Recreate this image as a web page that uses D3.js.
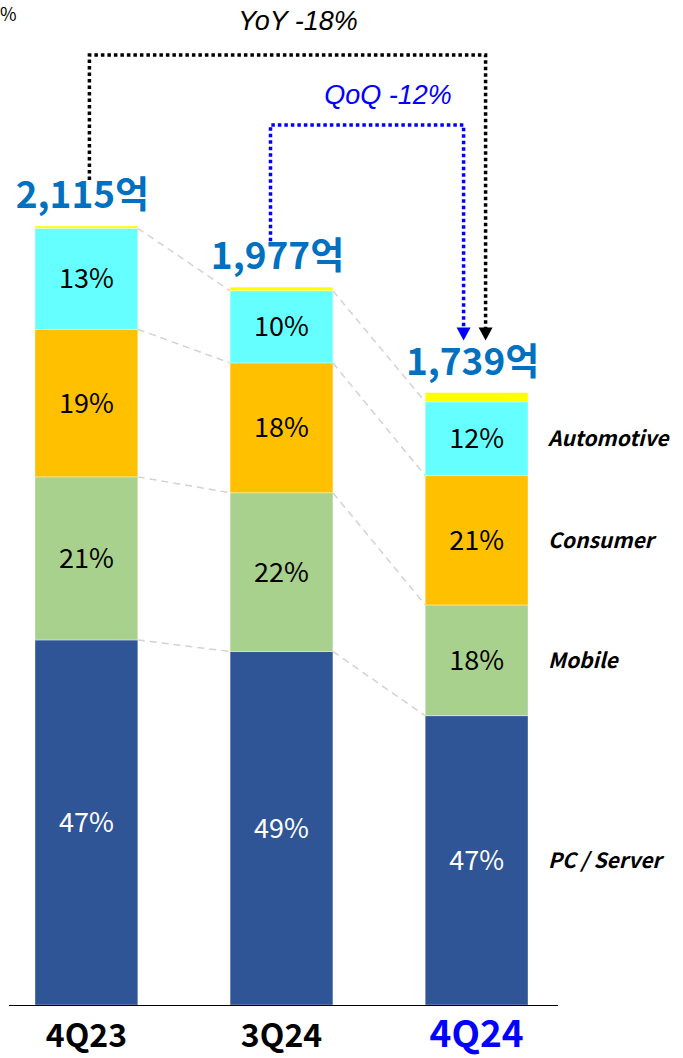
<!DOCTYPE html>
<html>
<head>
<meta charset="utf-8">
<script src="https://cdn.jsdelivr.net/npm/d3@7"></script>
<style>
  body { margin: 0; background: #fff; }
  svg { display: block; }
</style>
</head>
<body>
<div id="chart"></div>
<script>
// Quarterly revenue (억) and segment shares (%)
const quarters = ["4Q23", "3Q24", "4Q24"];
const totals = [2115, 1977, 1739];
const segmentNames = ["PC / Server", "Mobile", "Consumer", "Automotive", "Other"];
const pcServer = [47, 49, 47];
const mobile = [21, 22, 18];
const consumer = [19, 18, 21];
const automotive = [13, 10, 12];
const other = [0.3, 0.5, 1.5];   // thin yellow cap, unlabeled
const legendNames = ["PC / Server", "Mobile", "Consumer", "Automotive"];
const yoyText = "YoY -18%";
const qoqText = "QoQ -12%";

const width = 683, height = 1058;
const baseY = 1005;
const font = "'Noto Sans CJK KR', 'Noto Sans', sans-serif";

const colors = {
    "PC / Server": "#2F5597",
    "Mobile": "#A9D18E",
    "Consumer": "#FFC000",
    "Automotive": "#66FFFF",
    "Other": "#FFFF00"
};

const rows = quarters.map((q, i) => ({
    quarter: q,
    total: totals[i],
    "PC / Server": pcServer[i],
    "Mobile": mobile[i],
    "Consumer": consumer[i],
    "Automotive": automotive[i],
    "Other": other[i]
}));
rows.forEach(r => { r.sum = d3.sum(segmentNames, k => r[k]); });

const stacked = d3.stack().keys(segmentNames)(rows);

const svg = d3.select("#chart")
    .append("svg")
    .attr("width", width)
    .attr("height", height);

// x scale: bars
const x = d3.scaleBand()
    .domain(quarters)
    .range([35, 528])
    .paddingInner(0.473)
    .paddingOuter(0);

// bar height from revenue (truncated baseline)
const h = d3.scaleLinear()
    .domain([357, 2115])
    .range([0, 779]);

// per-bar share scale
const yOf = r => d3.scaleLinear()
    .domain([0, r.sum])
    .range([baseY, baseY - h(r.total)]);

// connector dashed lines between matching segment tops
const connectKeys = ["PC / Server", "Mobile", "Consumer", "Automotive"];
connectKeys.forEach(key => {
    const layer = stacked.find(s => s.key === key);
    for (let i = 0; i < rows.length - 1; i++) {
        const y1 = yOf(rows[i])(layer[i][1]);
        const y2 = yOf(rows[i + 1])(layer[i + 1][1]);
        svg.append("line")
            .attr("x1", x(quarters[i]) + x.bandwidth())
            .attr("y1", y1)
            .attr("x2", x(quarters[i + 1]))
            .attr("y2", y2)
            .attr("stroke", "#d3d3d3")
            .attr("stroke-width", 1.5)
            .attr("stroke-dasharray", "7,5");
    }
});

// stacked bars
svg.append("g")
    .selectAll("g")
    .data(stacked)
    .enter().append("g")
    .attr("fill", d => colors[d.key])
    .selectAll("rect")
    .data(d => d)
    .enter().append("rect")
    .attr("x", d => x(d.data.quarter))
    .attr("width", x.bandwidth())
    .attr("y", d => yOf(d.data)(d[1]))
    .attr("height", d => yOf(d.data)(d[0]) - yOf(d.data)(d[1]))
    .attr("stroke", "#ffffff")
    .attr("stroke-opacity", 0.45)
    .attr("stroke-width", 0.8);

// percentage labels
stacked.filter(s => s.key !== "Other").forEach(layer => {
    svg.selectAll(null)
        .data(layer)
        .enter().append("text")
        .attr("x", d => x(d.data.quarter) + x.bandwidth() / 2)
        .attr("y", d => (yOf(d.data)(d[0]) + yOf(d.data)(d[1])) / 2)
        .attr("dy", "0.35em")
        .attr("text-anchor", "middle")
        .style("font-family", font)
        .style("font-size", "27px")
        .attr("fill", layer.key === "PC / Server" ? "#ffffff" : "#000000")
        .text(d => d.data[layer.key] + "%");
});

// total labels
svg.selectAll(".total")
    .data(rows)
    .enter().append("text")
    .attr("class", "total")
    .attr("x", d => x(d.quarter) + x.bandwidth() / 2 - 4)
    .attr("y", d => baseY - h(d.total) - 18)
    .attr("text-anchor", "middle")
    .style("font-family", font)
    .style("font-weight", "bold")
    .style("font-size", "37px")
    .attr("fill", "#0070C0")
    .text(d => d3.format(",")(d.total) + "억");

// baseline
svg.append("line")
    .attr("x1", 9).attr("x2", 558)
    .attr("y1", baseY + 0.5).attr("y2", baseY + 0.5)
    .attr("stroke", "#000").attr("stroke-width", 1);

// category labels
svg.selectAll(".cat")
    .data(quarters)
    .enter().append("text")
    .attr("class", "cat")
    .attr("x", d => x(d) + x.bandwidth() / 2)
    .attr("y", 1047)
    .attr("text-anchor", "middle")
    .style("font-family", font)
    .style("font-weight", "bold")
    .style("font-size", (d, i) => i === quarters.length - 1 ? "37px" : "32px")
    .attr("fill", (d, i) => i === quarters.length - 1 ? "#0000FF" : "#000000")
    .text(d => d);

// legend labels beside last bar
const lastIdx = rows.length - 1;
legendNames.forEach(name => {
    const layer = stacked.find(s => s.key === name);
    const seg = layer[lastIdx];
    const ys = yOf(rows[lastIdx]);
    svg.append("text")
        .attr("x", 548)
        .attr("y", (ys(seg[0]) + ys(seg[1])) / 2)
        .attr("dy", "0.35em")
        .style("font-family", font)
        .style("font-weight", "bold")
        .style("font-style", "italic")
        .style("font-size", "21px")
        .attr("fill", "#000")
        .text(name);
});

// growth brackets
const cx = q => x(q) + x.bandwidth() / 2;
const labelTop = i => baseY - h(totals[i]) - 18 - 32;

function bracket(fromIdx, dx1, topY, dx2, color) {
    const x1 = cx(quarters[fromIdx]) + dx1;
    const x2 = cx(quarters[lastIdx]) + dx2;
    const tipY = labelTop(lastIdx) - 2;
    svg.append("path")
        .attr("d", `M${x1},${labelTop(fromIdx) + 4}V${topY}H${x2}V${tipY - 12}`)
        .attr("fill", "none")
        .attr("stroke", color)
        .attr("stroke-width", 3.5)
        .attr("stroke-dasharray", "3.5,3");
    svg.append("path")
        .attr("d", `M${x2 - 7},${tipY - 13}L${x2 + 7},${tipY - 13}L${x2},${tipY}Z`)
        .attr("fill", color);
}
bracket(0, 3, 55, 9, "#000000");
bracket(1, -11, 125, -13, "#0000FF");

svg.append("text")
    .attr("x", 298).attr("y", 30)
    .attr("text-anchor", "middle")
    .style("font-family", "'Liberation Sans', Arial, sans-serif")
    .style("font-style", "italic")
    .style("font-size", "27px")
    .attr("fill", "#000")
    .text(yoyText);

svg.append("text")
    .attr("x", 388).attr("y", 104)
    .attr("text-anchor", "middle")
    .style("font-family", "'Liberation Sans', Arial, sans-serif")
    .style("font-style", "italic")
    .style("font-size", "27px")
    .attr("fill", "#0000FF")
    .text(qoqText);

// remnant "%" at top-left corner
svg.append("text")
    .attr("x", 0).attr("y", 21)
    .style("font-family", font)
    .style("font-size", "18px")
    .attr("fill", "#000")
    .text("%");
</script>
</body>
</html>
